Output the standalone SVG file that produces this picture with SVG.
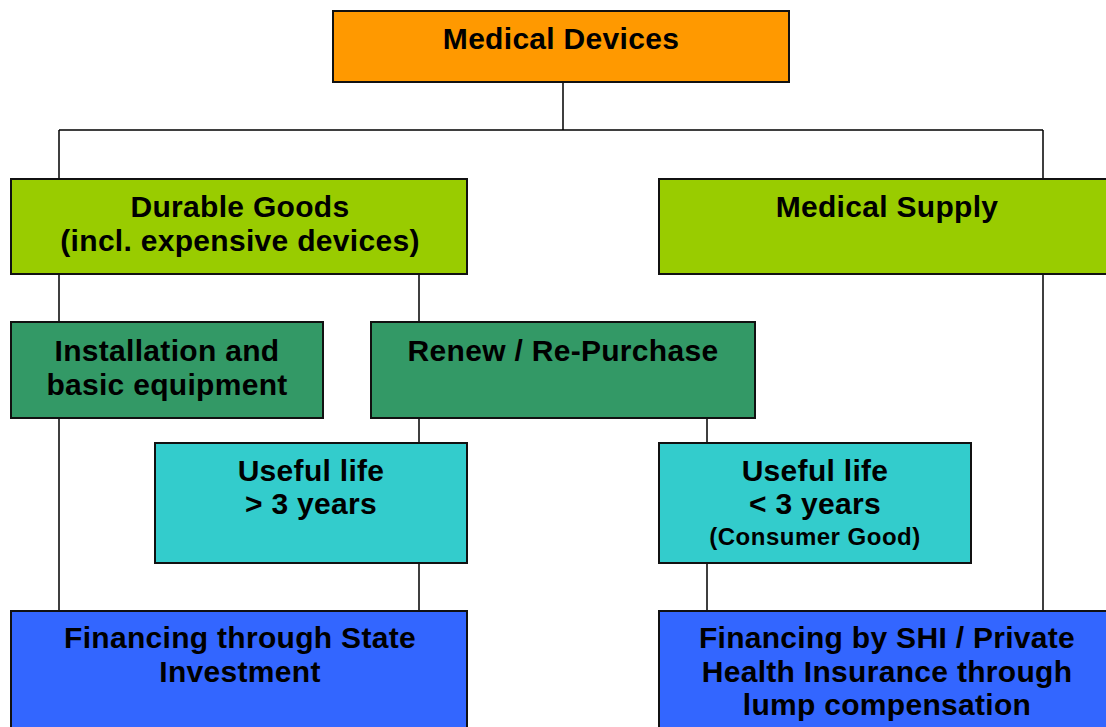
<svg xmlns="http://www.w3.org/2000/svg" width="1106" height="727" viewBox="0 0 1106 727">
  <style>
    .box { stroke: #111; stroke-width: 2; }
    .lbl { font-family: "Liberation Sans", Arial, sans-serif; font-weight: bold; font-size: 30px; letter-spacing: 0.3px; fill: #000; text-anchor: middle; }
    .sm { font-size: 24px; letter-spacing: 0.5px; }
    .wire { stroke: #000; stroke-width: 1.5; fill: none; }
  </style>
  <rect width="1106" height="727" fill="#fff"/>

  <!-- connectors -->
  <g id="connectors">
    <path class="wire" d="M563 82 V130 M59 130 H1043 M59 130 V179 M1043 130 V179"/>
    <path class="wire" d="M59 274 V322 M419 274 V322 M1043 274 V611"/>
    <path class="wire" d="M59 418 V611 M419 418 V443 M707 418 V443"/>
    <path class="wire" d="M419 563 V611 M707 563 V611"/>
  </g>

  <g id="medical-devices">
    <rect class="box" x="333" y="11" width="456" height="71" fill="#FF9900"/>
    <text class="lbl" x="561" y="49">Medical Devices</text>
  </g>

  <g id="durable-goods">
    <rect class="box" x="11" y="179" width="456" height="95" fill="#99CC00"/>
    <text class="lbl" x="240" y="217">Durable Goods</text>
    <text class="lbl" x="240" y="251">(incl. expensive devices)</text>
  </g>

  <g id="medical-supply">
    <rect class="box" x="659" y="179" width="460" height="95" fill="#99CC00"/>
    <text class="lbl" x="887" y="217">Medical Supply</text>
  </g>

  <g id="installation">
    <rect class="box" x="11" y="322" width="312" height="96" fill="#339966"/>
    <text class="lbl" x="167" y="361">Installation and</text>
    <text class="lbl" x="167" y="395">basic equipment</text>
  </g>

  <g id="renew">
    <rect class="box" x="371" y="322" width="384" height="96" fill="#339966"/>
    <text class="lbl" x="563" y="361">Renew / Re-Purchase</text>
  </g>

  <g id="useful-life-long">
    <rect class="box" x="155" y="443" width="312" height="120" fill="#33CCCC"/>
    <text class="lbl" x="311" y="481">Useful life</text>
    <text class="lbl" x="311" y="514">&gt; 3 years</text>
  </g>

  <g id="useful-life-short">
    <rect class="box" x="659" y="443" width="312" height="120" fill="#33CCCC"/>
    <text class="lbl" x="815" y="481">Useful life</text>
    <text class="lbl" x="815" y="514">&lt; 3 years</text>
    <text class="lbl sm" x="815" y="545">(Consumer Good)</text>
  </g>

  <g id="state-financing">
    <rect class="box" x="11" y="611" width="456" height="130" fill="#3366FF"/>
    <text class="lbl" x="240" y="648">Financing through State</text>
    <text class="lbl" x="240" y="682">Investment</text>
  </g>

  <g id="shi-financing">
    <rect class="box" x="659" y="611" width="460" height="130" fill="#3366FF"/>
    <text class="lbl" x="887" y="648">Financing by SHI / Private</text>
    <text class="lbl" x="887" y="682">Health Insurance through</text>
    <text class="lbl" x="887" y="715">lump compensation</text>
  </g>
</svg>
